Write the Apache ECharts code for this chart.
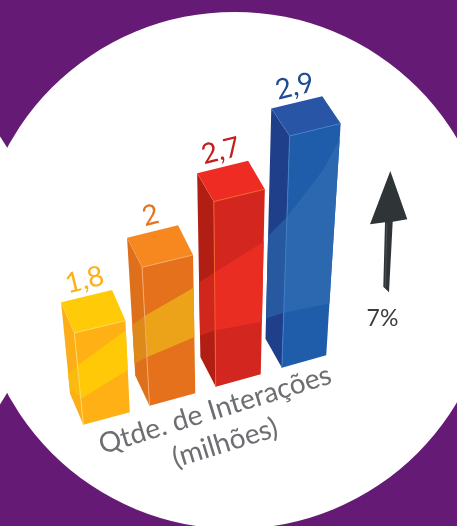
<!DOCTYPE html>
<html><head><meta charset="utf-8">
<style>html,body{margin:0;padding:0;background:#651a75}#c{width:457px;height:526px}</style>
<script src="https://cdn.jsdelivr.net/npm/echarts@6/dist/echarts.min.js"></script>
</head><body><div id="c"></div>
<script>
const categories = ['A', 'B', 'C', 'D'];
const values = [1.8, 2, 2.7, 2.9];
const tickLabels = ['1,8', '2', '2,7', '2,9'];
const axisTitleLine1 = 'Qtde. de Interações';
const axisTitleLine2 = '(milhões)';
const growthLabel = '7%';

const palettes = [
  {label:'#fdb017', top:'#ffca08', front:'#feb014', side:'#fbae17', band:'#ffc907', sideBand:'#f9bb10', edge:'#ffd95e'},
  {label:'#e8751e', top:'#f7871f', front:'#e5711d', side:'#df701b', band:'#eca319', sideBand:'#dd8a1a', edge:'#f9a868'},
  {label:'#c1201d', top:'#ee2c24', front:'#d2261f', side:'#b11f14', band:'#e92d23', sideBand:'#d0261c', edge:'#f6602a'},
  {label:'#1f4b94', top:'#2855a5', front:'#1f5dab', side:'#1f3f8b', band:'#2c68b0', sideBand:'#2759a0', edge:'#3f7fc6'}
];
// The swoosh that crosses every bar (decoration, screen space)
const swoosh = [[45,390],[70.7,372],[78,365],[126,330],[143,317],[193,288],[198,283],[263,242],[269,235],[287,217],[323,170],[342,135],[352,112],
  [352,298],[330,303.3],[284,312.7],[267,318.3],[261.7,321.7],[214,330.7],[199.3,336],[194,337.3],[146,357.7],[134.3,364],[129.3,369],[81.7,398.3],[72,391],[45,405]];

function clipPoly(subject, clip){
  let out = subject;
  const n = clip.length;
  let area = 0;
  for(let i=0;i<n;i++){const a=clip[i],b=clip[(i+1)%n];area+=a[0]*b[1]-b[0]*a[1];}
  const sign = area>0?1:-1;
  for(let i=0;i<n&&out.length;i++){
    const a=clip[i],b=clip[(i+1)%n];
    const inside=p=>sign*((b[0]-a[0])*(p[1]-a[1])-(b[1]-a[1])*(p[0]-a[0]))>=0;
    const input=out; out=[];
    for(let j=0;j<input.length;j++){
      const p=input[j],q=input[(j+1)%input.length];
      const pi=inside(p),qi=inside(q);
      if(pi)out.push(p);
      if(pi!==qi){
        const d1=(b[0]-a[0])*(p[1]-a[1])-(b[1]-a[1])*(p[0]-a[0]);
        const d2=(b[0]-a[0])*(q[1]-a[1])-(b[1]-a[1])*(q[0]-a[0]);
        const s=d1/(d1-d2);
        out.push([p[0]+s*(q[0]-p[0]),p[1]+s*(q[1]-p[1])]);
      }
    }
  }
  return out;
}

const GRID = {left:50.2, width:264.8, top:100, height:140.1};
function renderBar(params, api){
  const i = params.dataIndex;
  const pal = palettes[i];
  const c = api.coord([api.value(0), api.value(1)]);
  const X = c[0];
  const h = 91.7 + (GRID.top + GRID.height - c[1]);
  const t = (X - 84) / 198.6;
  // perspective: the floor rises to the right, verticals fan out
  const lean = -0.097 + 0.131 * t;
  const baseY = 424.5 - 57 * t;
  const fb = [X, baseY];
  const ft = [X + h * lean, baseY - h];
  const topR = [51, -12.4], botR = [46.5 - 2.2 * t, -12.4];
  const topB = [-13.3 - 5.1 * t, -30.7 + 3.4 * t], botB = [-13.2 - 3.2 * t, -31 + 2.1 * t];
  const add = (p, v) => [p[0] + v[0], p[1] + v[1]];
  const frb = add(fb, botR), frt = add(ft, topR);
  const blb = add(fb, botB), blt = add(ft, topB);
  const brt = add(blt, topR);
  const poly = (pts, fill) => ({type:'polygon', shape:{points:pts}, style:{fill:fill}});
  const sideFace = [blt, ft, fb, blb], frontFace = [ft, frt, frb, fb], topFace = [blt, brt, frt, ft];
  const children = [
    poly(sideFace, pal.side), poly(frontFace, pal.front),
    poly(clipPoly(swoosh, sideFace), pal.sideBand),
    poly(clipPoly(swoosh, frontFace), pal.band),
    poly(topFace, pal.top),
    {type:'polyline', shape:{points:[fb, ft, frt]}, style:{stroke:pal.edge, lineWidth:1, fill:null}},
    {type:'polyline', shape:{points:[blt, ft]}, style:{stroke:pal.edge, lineWidth:0.5, opacity:0.6, fill:null}},
    {type:'text', x:(blt[0]+brt[0])/2-2, y:(blt[1]+brt[1])/2-16, rotation:0.24,
      style:{text:tickLabels[i], fill:pal.label, font:'28px Lato', textAlign:'center', textVerticalAlign:'middle'}}
  ];
  return {type:'group', children};
}

const chart = echarts.init(document.getElementById('c'), null, {renderer:'canvas'});
chart.setOption({
  animation:false,
  backgroundColor:'#651a75',
  grid:GRID,
  xAxis:{type:'category', data:categories, show:false},
  yAxis:{type:'category', data:tickLabels, boundaryGap:false, show:false},
  graphic:[
    {type:'circle', shape:{cx:234.7, cy:270.4, r:258.5}, style:{fill:'#ffffff'}, silent:true},
    {type:'circle', shape:{cx:-198, cy:270.4, r:239}, style:{fill:'#ffffff'}, silent:true},
    {type:'polygon', shape:{points:[[390.3,171],[407.3,219.3],[392.7,221.7],[389,292.3],[383.3,286.7],[385,222.3],[370,224.3]]}, style:{fill:'#2f3436'}},
    {type:'polyline', shape:{points:[[386.8,223],[385.4,287]]}, style:{stroke:'#565b5e', lineWidth:0.7, fill:null}},
    {type:'text', x:382.5, y:319, style:{text:growthLabel, fill:'#3a3d40', font:'23px Lato', textAlign:'center', textVerticalAlign:'middle'}},
    {type:'text', x:215, y:410, rotation:0.3, style:{text:axisTitleLine1, fill:'#6d6e71', font:'28px Lato', textAlign:'center', textVerticalAlign:'middle'}},
    {type:'text', x:225, y:443, rotation:0.3, style:{text:axisTitleLine2, fill:'#6d6e71', font:'28px Lato', textAlign:'center', textVerticalAlign:'middle'}}
  ],
  series:[{type:'custom', coordinateSystem:'cartesian2d', renderItem:renderBar, clip:false,
    encode:{x:0,y:1},
    data:categories.map((c,i)=>[i, tickLabels[i], values[i]])}]
});
</script></body></html>
